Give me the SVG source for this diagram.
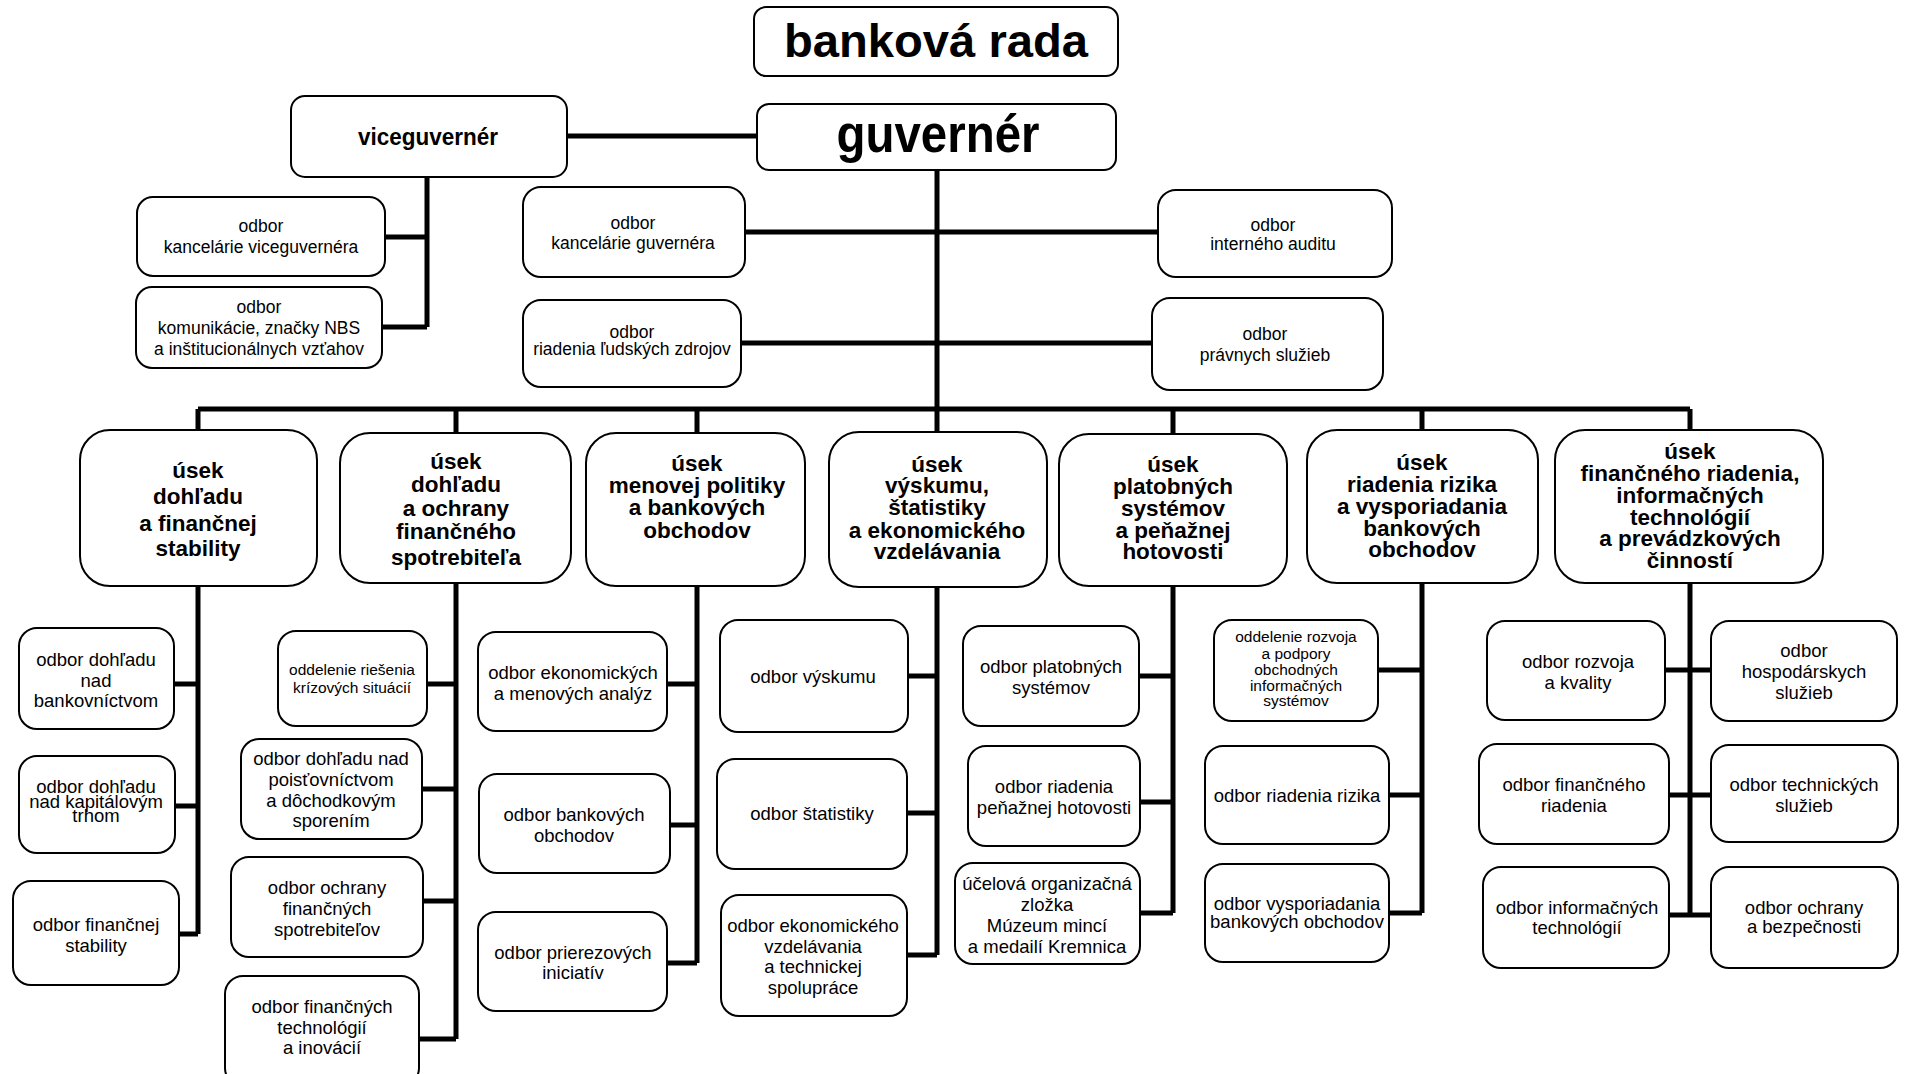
<svg xmlns="http://www.w3.org/2000/svg" width="1906" height="1074" viewBox="0 0 1906 1074">
<style>
.b{fill:#fff;stroke:#000;stroke-width:2}
.c{stroke:#000;stroke-width:5;fill:none;stroke-linecap:butt}
text{font-family:"Liberation Sans",Arial,Helvetica,sans-serif;text-anchor:middle;fill:#000}
.t{font-size:18.5px}
.ts{font-size:17.5px}
.tm{font-size:15.5px}
.tb{font-size:22.5px;font-weight:bold}
.th{font-weight:bold}
</style>
<rect width="1906" height="1074" fill="#fff"/>
<g id="connectors">
<path class="c" d="M566 136H757"/>
<path class="c" d="M937 170V955"/>
<path class="c" d="M427 177V327M385 237H427M382 327H427"/>
<path class="c" d="M745 232H1158M741 343H1152"/>
<path class="c" d="M198 409H1690M198 409V430M456 409V433M697 409V433M1173 409V434M1422 409V430M1690 409V430"/>
<path class="c" d="M198 586V934M174 684H198M175 806H198M179 934H198"/>
<path class="c" d="M456 583V1039M427 684H456M422 789H456M423 901H456M419 1039H456"/>
<path class="c" d="M697 586V963M667 684H697M670 825H697M667 963H697"/>
<path class="c" d="M908 676H937M907 813H937M907 955H937"/>
<path class="c" d="M1173 586V913M1139 676H1173M1140 802H1173M1140 913H1173"/>
<path class="c" d="M1422 583V913M1378 670H1422M1389 795H1422M1389 913H1422"/>
<path class="c" d="M1690 583V915M1665 670H1711M1669 795H1711M1669 915H1711"/>
</g>
<g id="n-rada"><rect class="b" x="754" y="7" width="364" height="69" rx="12"/><text class="th" x="936" y="57" font-size="46" textLength="304" lengthAdjust="spacingAndGlyphs">banková rada</text></g>
<g id="n-guverner"><rect class="b" x="757" y="104" width="359" height="66" rx="12"/><text class="th" x="938" y="152" font-size="54" textLength="203" lengthAdjust="spacingAndGlyphs">guvernér</text></g>
<g id="n-vice"><rect class="b" x="291" y="96" width="276" height="81" rx="14"/><text class="th" x="428" y="145" font-size="24" textLength="140" lengthAdjust="spacingAndGlyphs">viceguvernér</text></g>
<g id="n-kanc-vice"><rect class="b" x="137" y="197" width="248" height="79" rx="16"/><text class="ts" x="261" y="232">odbor</text><text class="ts" x="261" y="253">kancelárie viceguvernéra</text></g>
<g id="n-komunikacie"><rect class="b" x="136" y="287" width="246" height="81" rx="16"/><text class="ts" x="259" y="313">odbor</text><text class="ts" x="259" y="334">komunikácie, značky NBS</text><text class="ts" x="259" y="355">a inštitucionálnych vzťahov</text></g>
<g id="n-kanc-guv"><rect class="b" x="523" y="187" width="222" height="90" rx="18"/><text class="ts" x="633" y="229">odbor</text><text class="ts" x="633" y="249">kancelárie guvernéra</text></g>
<g id="n-audit"><rect class="b" x="1158" y="190" width="234" height="87" rx="18"/><text class="ts" x="1273" y="231">odbor</text><text class="ts" x="1273" y="250">interného auditu</text></g>
<g id="n-ludske"><rect class="b" x="523" y="300" width="218" height="87" rx="18"/><text class="ts" x="632" y="338">odbor</text><text class="ts" x="632" y="355">riadenia ľudských zdrojov</text></g>
<g id="n-pravne"><rect class="b" x="1152" y="298" width="231" height="92" rx="18"/><text class="ts" x="1265" y="340">odbor</text><text class="ts" x="1265" y="361">právnych služieb</text></g>

<g id="u1"><rect class="b" x="80" y="430" width="237" height="156" rx="30"/><text class="tb" x="198" y="478">úsek</text><text class="tb" x="198" y="504">dohľadu</text><text class="tb" x="198" y="531">a finančnej</text><text class="tb" x="198" y="556">stability</text></g>
<g id="u2"><rect class="b" x="340" y="433" width="231" height="150" rx="30"/><text class="tb" x="456" y="469">úsek</text><text class="tb" x="456" y="492">dohľadu</text><text class="tb" x="456" y="516">a ochrany</text><text class="tb" x="456" y="539">finančného</text><text class="tb" x="456" y="565">spotrebiteľa</text></g>
<g id="u3"><rect class="b" x="586" y="433" width="219" height="153" rx="30"/><text class="tb" x="697" y="471">úsek</text><text class="tb" x="697" y="493">menovej politiky</text><text class="tb" x="697" y="515">a bankových</text><text class="tb" x="697" y="538">obchodov</text></g>
<g id="u4"><rect class="b" x="829" y="432" width="218" height="155" rx="30"/><text class="tb" x="937" y="472">úsek</text><text class="tb" x="937" y="493">výskumu,</text><text class="tb" x="937" y="515">štatistiky</text><text class="tb" x="937" y="538">a ekonomického</text><text class="tb" x="937" y="559">vzdelávania</text></g>
<g id="u5"><rect class="b" x="1059" y="434" width="228" height="152" rx="30"/><text class="tb" x="1173" y="472">úsek</text><text class="tb" x="1173" y="494">platobných</text><text class="tb" x="1173" y="516">systémov</text><text class="tb" x="1173" y="538">a peňažnej</text><text class="tb" x="1173" y="559">hotovosti</text></g>
<g id="u6"><rect class="b" x="1307" y="430" width="231" height="153" rx="30"/><text class="tb" x="1422" y="470">úsek</text><text class="tb" x="1422" y="492">riadenia rizika</text><text class="tb" x="1422" y="514">a vysporiadania</text><text class="tb" x="1422" y="536">bankových</text><text class="tb" x="1422" y="557">obchodov</text></g>
<g id="u7"><rect class="b" x="1555" y="430" width="268" height="153" rx="30"/><text class="tb" x="1690" y="459">úsek</text><text class="tb" x="1690" y="481">finančného riadenia,</text><text class="tb" x="1690" y="503">informačných</text><text class="tb" x="1690" y="525">technológií</text><text class="tb" x="1690" y="546">a prevádzkových</text><text class="tb" x="1690" y="568">činností</text></g>

<g id="o1a"><rect class="b" x="19" y="628" width="155" height="101" rx="18"/><text class="t" x="96" y="666">odbor dohľadu</text><text class="t" x="96" y="687">nad</text><text class="t" x="96" y="707">bankovníctvom</text></g>
<g id="o1b"><rect class="b" x="19" y="756" width="156" height="97" rx="18"/><text class="t" x="96" y="793">odbor dohľadu</text><text class="t" x="96" y="808">nad kapitálovým</text><text class="t" x="96" y="822">trhom</text></g>
<g id="o1c"><rect class="b" x="13" y="881" width="166" height="104" rx="18"/><text class="t" x="96" y="931">odbor finančnej</text><text class="t" x="96" y="952">stability</text></g>

<g id="o2a"><rect class="b" x="278" y="631" width="149" height="95" rx="18"/><text class="tm" x="352" y="675">oddelenie riešenia</text><text class="tm" x="352" y="693">krízových situácií</text></g>
<g id="o2b"><rect class="b" x="241" y="739" width="181" height="100" rx="18"/><text class="t" x="331" y="765">odbor dohľadu nad</text><text class="t" x="331" y="786">poisťovníctvom</text><text class="t" x="331" y="807">a dôchodkovým</text><text class="t" x="331" y="827">sporením</text></g>
<g id="o2c"><rect class="b" x="231" y="857" width="192" height="100" rx="18"/><text class="t" x="327" y="894">odbor ochrany</text><text class="t" x="327" y="915">finančných</text><text class="t" x="327" y="936">spotrebiteľov</text></g>
<g id="o2d"><rect class="b" x="225" y="976" width="194" height="110" rx="18"/><text class="t" x="322" y="1013">odbor finančných</text><text class="t" x="322" y="1034">technológií</text><text class="t" x="322" y="1054">a inovácií</text></g>

<g id="o3a"><rect class="b" x="478" y="632" width="189" height="99" rx="18"/><text class="t" x="573" y="679">odbor ekonomických</text><text class="t" x="573" y="700">a menových analýz</text></g>
<g id="o3b"><rect class="b" x="479" y="774" width="191" height="99" rx="18"/><text class="t" x="574" y="821">odbor bankových</text><text class="t" x="574" y="842">obchodov</text></g>
<g id="o3c"><rect class="b" x="478" y="912" width="189" height="99" rx="18"/><text class="t" x="573" y="959">odbor prierezových</text><text class="t" x="573" y="979">iniciatív</text></g>

<g id="o4a"><rect class="b" x="720" y="620" width="188" height="112" rx="18"/><text class="t" x="813" y="683">odbor výskumu</text></g>
<g id="o4b"><rect class="b" x="717" y="759" width="190" height="110" rx="18"/><text class="t" x="812" y="820">odbor štatistiky</text></g>
<g id="o4c"><rect class="b" x="721" y="895" width="186" height="121" rx="18"/><text class="t" x="813" y="932">odbor ekonomického</text><text class="t" x="813" y="953">vzdelávania</text><text class="t" x="813" y="973">a technickej</text><text class="t" x="813" y="994">spolupráce</text></g>

<g id="o5a"><rect class="b" x="963" y="626" width="176" height="100" rx="18"/><text class="t" x="1051" y="673">odbor platobných</text><text class="t" x="1051" y="694">systémov</text></g>
<g id="o5b"><rect class="b" x="968" y="746" width="172" height="100" rx="18"/><text class="t" x="1054" y="793">odbor riadenia</text><text class="t" x="1054" y="814">peňažnej hotovosti</text></g>
<g id="o5c"><rect class="b" x="955" y="863" width="185" height="101" rx="18"/><text class="t" x="1047" y="890">účelová organizačná</text><text class="t" x="1047" y="911">zložka</text><text class="t" x="1047" y="932">Múzeum mincí</text><text class="t" x="1047" y="953">a medailí Kremnica</text></g>

<g id="o6a"><rect class="b" x="1214" y="620" width="164" height="101" rx="18"/><text class="tm" x="1296" y="642">oddelenie rozvoja</text><text class="tm" x="1296" y="659">a podpory</text><text class="tm" x="1296" y="675">obchodných</text><text class="tm" x="1296" y="691">informačných</text><text class="tm" x="1296" y="706">systémov</text></g>
<g id="o6b"><rect class="b" x="1205" y="746" width="184" height="98" rx="18"/><text class="t" x="1297" y="802">odbor riadenia rizika</text></g>
<g id="o6c"><rect class="b" x="1205" y="864" width="184" height="98" rx="18"/><text class="t" x="1297" y="910">odbor vysporiadania</text><text class="t" x="1297" y="928">bankových obchodov</text></g>

<g id="o7a"><rect class="b" x="1487" y="621" width="178" height="99" rx="18"/><text class="t" x="1578" y="668">odbor rozvoja</text><text class="t" x="1578" y="689">a kvality</text></g>
<g id="o7b"><rect class="b" x="1479" y="744" width="190" height="100" rx="18"/><text class="t" x="1574" y="791">odbor finančného</text><text class="t" x="1574" y="812">riadenia</text></g>
<g id="o7c"><rect class="b" x="1483" y="867" width="186" height="101" rx="18"/><text class="t" x="1577" y="914">odbor informačných</text><text class="t" x="1577" y="934">technológií</text></g>
<g id="o7d"><rect class="b" x="1711" y="621" width="186" height="100" rx="18"/><text class="t" x="1804" y="657">odbor</text><text class="t" x="1804" y="678">hospodárskych</text><text class="t" x="1804" y="699">služieb</text></g>
<g id="o7e"><rect class="b" x="1711" y="745" width="187" height="97" rx="18"/><text class="t" x="1804" y="791">odbor technických</text><text class="t" x="1804" y="812">služieb</text></g>
<g id="o7f"><rect class="b" x="1711" y="867" width="187" height="101" rx="18"/><text class="t" x="1804" y="914">odbor ochrany</text><text class="t" x="1804" y="933">a bezpečnosti</text></g>
</svg>
